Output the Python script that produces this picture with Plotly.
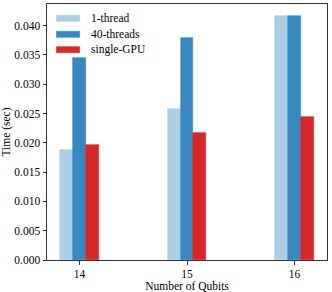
import plotly.graph_objects as go

qubits = [14, 15, 16]
one_thread = [0.0187, 0.0258, 0.0416]
forty_threads = [0.0345, 0.0378, 0.0416]
single_gpu = [0.0197, 0.0216, 0.0244]
series_names = ["1-thread", "40-threads", "single-GPU"]
colors = ["#abd0e6", "#3787c0", "#d62828"]
width = 0.12
offsets = [-width, 0.0, width]

fig = go.Figure()
for name, vals, col, off in zip(series_names, [one_thread, forty_threads, single_gpu], colors, offsets):
    fig.add_trace(go.Bar(
        x=[q + off for q in qubits], y=vals, width=width, name=name,
        marker=dict(color=col, line=dict(width=0.6, color=col)),
        showlegend=False,
    ))

# manual matplotlib-style legend (paper coordinates; plot area 280x256 px)
L, T, W, H = 47, 4, 280, 256
def px_x(p):
    return (p - L) / W
def px_y(p):
    return 1 - (p - T) / H

FAM = "Times New Roman, Liberation Serif, Tinos, serif"
row_centers = [18.3, 34.3, 49.7]
for name, col, cy in zip(series_names, colors, row_centers):
    fig.add_shape(type="rect", xref="paper", yref="paper",
                  x0=px_x(56.5), x1=px_x(79.7), y0=px_y(cy + 3), y1=px_y(cy - 3),
                  fillcolor=col, line=dict(width=0.6, color=col))
    fig.add_annotation(xref="paper", yref="paper", x=px_x(88.5), y=px_y(cy),
                       xanchor="left", yanchor="middle", text=name, showarrow=False,
                       font=dict(size=11.5, family=FAM))

font = dict(family=FAM, size=11.5, color="black")
fig.update_layout(
    width=332, height=292,
    margin=dict(l=47, r=5, t=4, b=32),
    plot_bgcolor="white", paper_bgcolor="white",
    font=font, bargap=0, barmode="overlay",
    xaxis=dict(range=[13.698, 16.302], tickmode="array", tickvals=qubits,
               ticktext=[str(q) for q in qubits], automargin=False,
               showline=True, linecolor="#333", linewidth=1, mirror=True,
               ticks="outside", ticklen=3.5, tickcolor="#333", showgrid=False,
               zeroline=False, tickfont=dict(size=11.5, family=FAM),
               title=dict(text="Number of Qubits", standoff=2, font=dict(size=11.5, family=FAM))),
    yaxis=dict(range=[0, 0.04368], dtick=0.005, tickformat=".3f", automargin=False,
               showline=True, linecolor="#333", linewidth=1, mirror=True,
               ticks="outside", ticklen=3.5, tickcolor="#333", showgrid=False,
               zeroline=False, tickfont=dict(size=11.5, family=FAM),
               title=dict(text="Time (sec)", standoff=4, font=dict(size=11.5, family=FAM))),
)
fig.write_html("out.html", config={"displayModeBar": False},
               post_script="document.body.style.margin='0';document.body.style.overflow='hidden';")
